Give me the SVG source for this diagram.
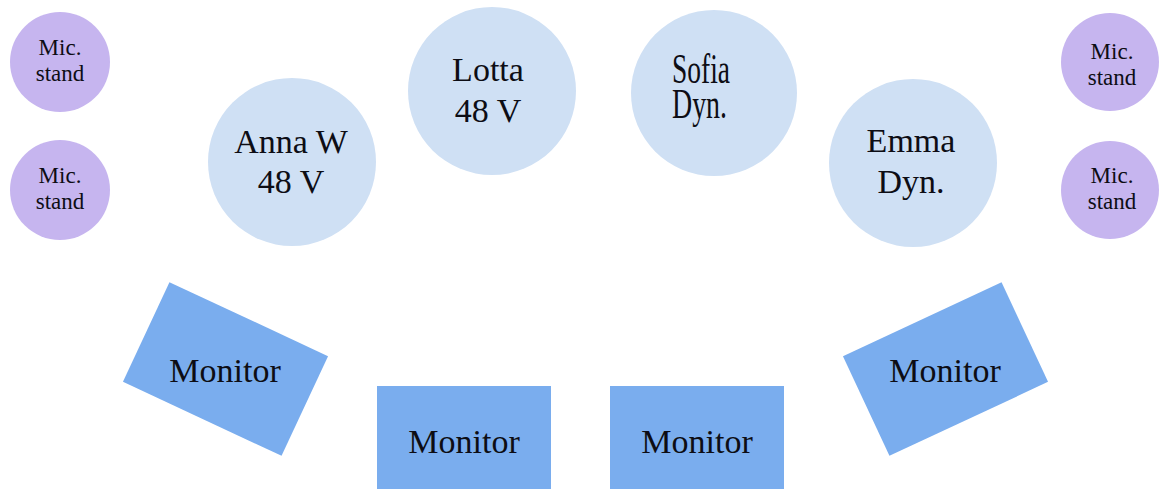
<svg xmlns="http://www.w3.org/2000/svg" width="1159" height="489" viewBox="0 0 1159 489">
<style>
  .mic { fill: #c6b5ef; }
  .singer { fill: #cfe0f4; }
  .mon { fill: #7aadee; }
  text { font-family: "Liberation Serif", "Times New Roman", serif; fill: #0d0d14; }
  .sm { font-size: 23px; text-anchor: middle; }
  .lg { font-size: 34px; text-anchor: middle; }
</style>
<rect width="1159" height="489" fill="#ffffff"/>
<g id="connectors"></g>
<g id="mic1"><circle class="mic" cx="60" cy="62" r="50"/><text class="sm" x="60" y="55">Mic.</text><text class="sm" x="60" y="81">stand</text></g>
<g id="mic2"><circle class="mic" cx="60" cy="190" r="50"/><text class="sm" x="60" y="183">Mic.</text><text class="sm" x="60" y="209">stand</text></g>
<g id="mic3"><circle class="mic" cx="1110" cy="62" r="49"/><text class="sm" x="1112" y="59">Mic.</text><text class="sm" x="1112" y="85">stand</text></g>
<g id="mic4"><circle class="mic" cx="1110" cy="190" r="49"/><text class="sm" x="1112" y="183">Mic.</text><text class="sm" x="1112" y="209">stand</text></g>
<g id="anna"><circle class="singer" cx="292" cy="162" r="84"/><text class="lg" x="291" y="153">Anna W</text><text class="lg" x="291" y="193">48 V</text></g>
<g id="lotta"><circle class="singer" cx="492" cy="91" r="84"/><text class="lg" x="488" y="81">Lotta</text><text class="lg" x="488" y="122">48 V</text></g>
<g id="sofia"><circle class="singer" cx="714" cy="93" r="83"/><text x="672" y="83" font-size="42" textLength="58" lengthAdjust="spacingAndGlyphs">Sofia</text><text x="672" y="118" font-size="42" textLength="55" lengthAdjust="spacingAndGlyphs">Dyn.</text></g>
<g id="emma"><circle class="singer" cx="913" cy="163" r="84"/><text class="lg" x="911" y="152">Emma</text><text class="lg" x="911" y="193">Dyn.</text></g>
<g id="monitor1"><rect class="mon" x="-87.5" y="-55" width="175" height="110" transform="translate(225.5 369) rotate(25)"/><text class="lg" x="225" y="382">Monitor</text></g>
<g id="monitor2"><rect class="mon" x="377" y="386" width="174" height="110"/><text class="lg" x="464" y="453">Monitor</text></g>
<g id="monitor3"><rect class="mon" x="610" y="386" width="174" height="110"/><text class="lg" x="697" y="453">Monitor</text></g>
<g id="monitor4"><rect class="mon" x="-87.5" y="-55" width="175" height="110" transform="translate(945.5 369) rotate(-25)"/><text class="lg" x="945" y="382">Monitor</text></g>
</svg>
